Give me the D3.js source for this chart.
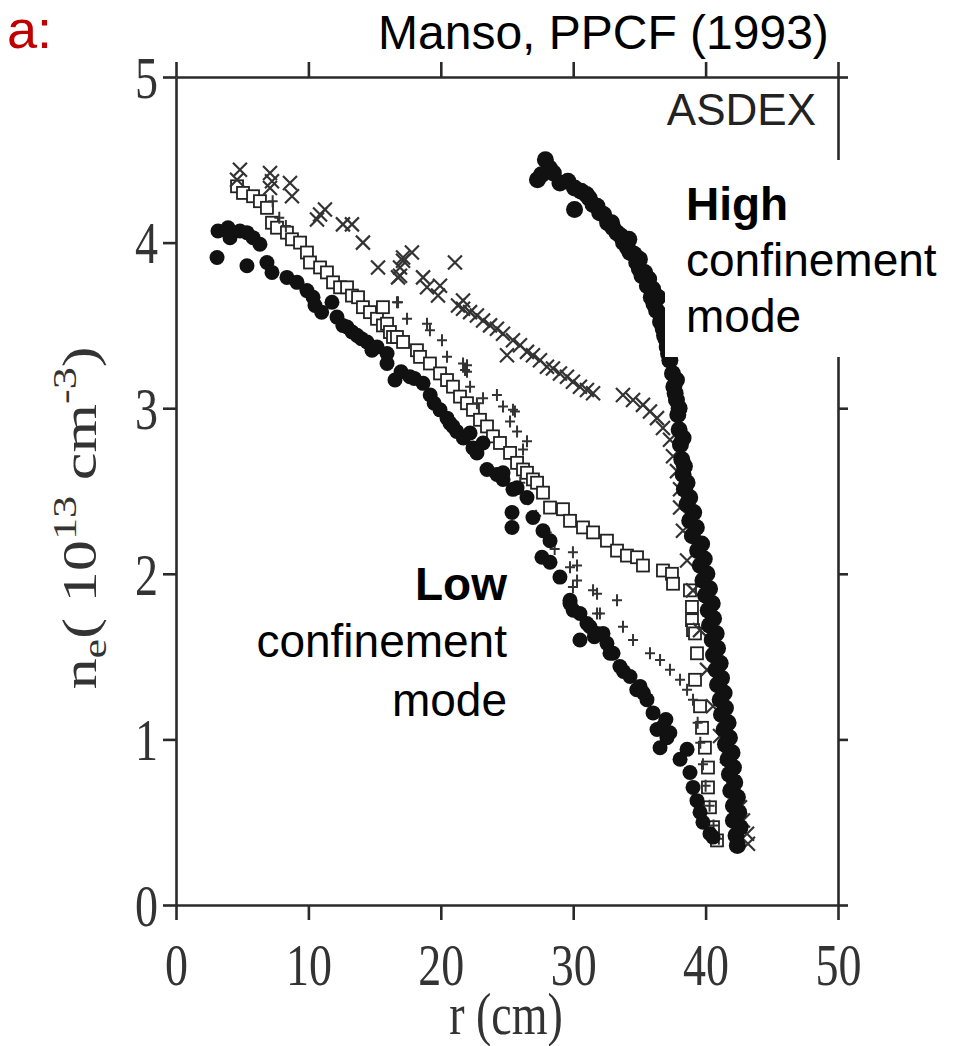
<!DOCTYPE html>
<html>
<head>
<meta charset="utf-8">
<style>
body { margin: 0; background: #fff; }
svg { display: block; background: #fff; }
.axis path, .axis line { stroke: #2a2a2a; stroke-width: 2.6; }
.axis text { font-family: "Liberation Serif", serif; font-size: 46px; fill: #333; }
.serif { font-family: "Liberation Serif", serif; fill: #333; }
.sans { font-family: "Liberation Sans", Arial, sans-serif; }
</style>
</head>
<body>
<svg id="chart" width="955" height="1046"></svg>
<script src="https://cdn.jsdelivr.net/npm/d3@7/dist/d3.min.js"></script>
<script>
// ticks
var xTicks = [0, 10, 20, 30, 40, 50];
var yTicks = [0, 1, 2, 3, 4, 5];

// L-mode profile, filled dots [r (cm), ne]
var lModeDots = [
  [3.17,4.07],[3.93,4.09],[4.08,4.03],[4.83,4.07],[5.36,4.06],[5.82,4.03],[6.34,3.99],
  [3.10,3.91],[5.36,3.86],[6.87,3.88],[7.25,3.82],[8.38,3.79],[9.14,3.76],[9.89,3.71],
  [10.35,3.67],[10.50,3.62],[11.0,3.58],[11.78,3.64],[12.16,3.55],[12.6,3.50],[12.92,3.49],
  [13.3,3.46],[13.67,3.44],[14.0,3.42],[14.43,3.40],[14.8,3.35],[15.18,3.37],[15.94,3.33],
  [15.94,3.27],[16.54,3.17],[17.0,3.22],[17.67,3.19],[18.0,3.18],[18.66,3.15],[19.2,3.08],
  [19.5,3.03],[19.94,2.99],[20.47,2.94],[20.69,2.91],[20.92,2.89],[21.2,2.86],[21.7,2.82],
  [22.21,2.85],[23.19,2.79],[22.43,2.76],[22.73,2.73],[23.49,2.63],[24.24,2.60],
  [24.70,2.57],[25.45,2.51],[24.70,2.61],[25.76,2.52],[26.51,2.46],[25.38,2.37],[25.38,2.28],
  [26.96,2.34],[27.72,2.26],[28.25,2.20],[27.64,2.10],[28.25,2.07],[29.00,1.98],[29.76,1.84],
  [30.0,1.78],[29.76,1.82],[30.51,1.76],[31.04,1.70],[31.27,1.68],[31.6,1.62],[31.80,1.64],
  [32.25,1.64],[32.55,1.58],[30.51,1.60],[33.01,1.52],[32.78,1.52],[33.53,1.44],[33.8,1.41],
  [34.29,1.38],[34.8,1.30],[35.05,1.32],[35.3,1.28],[35.57,1.24],[36.03,1.16],[36.33,1.06],
  [36.8,1.08],[37.0,1.12],[37.3,1.04],[37.08,1.01],[36.56,0.95],[38.07,0.88],[38.60,0.94],
  [38.82,0.80],[39.05,0.71],[39.35,0.63],[39.58,0.56],[39.80,0.50],[40.33,0.43],[40.56,0.41]
];

// intermediate profiles: open squares, plus signs, crosses
var squares = [
  [4.61,4.34],[5.06,4.30],[5.82,4.28],[6.34,4.25],[6.87,4.21],[7.25,4.12],[7.63,4.09],
  [8.38,4.06],[8.76,4.02],[9.37,4.00],[9.89,3.94],[10.12,3.88],[10.88,3.85],[11.40,3.82],
  [11.86,3.76],[12.39,3.73],[12.92,3.73],[13.29,3.68],[13.75,3.67],[14.12,3.61],[14.65,3.58],
  [15.18,3.54],[15.63,3.50],[15.63,3.61],[15.94,3.51],[16.16,3.46],[16.39,3.43],[16.69,3.43],
  [17.15,3.40],[18.20,3.35],[18.43,3.31],[19.18,3.27],[19.94,3.21],[20.47,3.17],[20.92,3.13],
  [21.45,3.07],[21.98,3.03],[22.43,2.99],[22.96,2.93],[23.49,2.89],[23.94,2.83],[24.47,2.79],
  [25.23,2.73],[25.76,2.67],[26.21,2.63],[26.51,2.61],[26.96,2.57],[27.27,2.55],[27.72,2.49],
  [28.25,2.40],[29.23,2.39],[29.76,2.32],[30.74,2.28],[31.50,2.25],[32.55,2.20],[33.31,2.14],
  [34.06,2.11],[34.82,2.10],[35.27,2.05],[36.78,2.02],[37.46,2.00],[37.54,1.94],[38.82,1.90],
  [38.97,1.80],[38.97,1.72],[39.05,1.66],[39.20,1.64],[39.35,1.52],[39.20,1.36],[39.58,1.20],
  [39.73,1.07],[39.95,0.95],[40.18,0.83],[40.18,0.71],[40.33,0.59],[40.56,0.47],[40.86,0.39]
];

var pluses = [
  [7.3,4.25],[7.8,4.15],[8.3,4.10],[16.69,3.64],[16.77,3.64],[17.45,3.54],[18.96,3.51],
  [19.18,3.47],[20.09,3.41],[20.47,3.31],[21.68,3.27],[21.83,3.23],[21.98,3.26],[21.98,3.22],
  [22.21,3.13],[23.19,3.06],[22.73,3.03],[24.24,3.08],[24.70,3.01],[25.45,2.99],[25.60,2.98],
  [25.23,2.92],[25.76,2.86],[26.51,2.80],[26.21,2.75],[26.0,2.55],[26.6,2.45],[27.2,2.35],
  [28.0,2.25],[28.6,2.15],[29.98,2.13],[29.76,2.04],[30.29,2.05],[29.98,1.92],[30.29,1.96],
  [31.50,1.90],[31.80,1.88],[33.31,1.84],[32.02,1.76],[31.80,1.76],[33.76,1.68],[34.52,1.60],
  [35.80,1.52],[36.56,1.48],[37.31,1.42],[38.07,1.36],[38.60,1.30],[39.05,1.24],[39.4,1.10],
  [39.6,0.98],[39.8,0.85],[40.0,0.72],[40.3,0.60],[40.6,0.48],[41.0,0.40]
];

var crosses = [
  [4.83,4.44],[4.61,4.38],[7.10,4.42],[7.25,4.37],[7.10,4.33],[8.61,4.36],[8.76,4.28],
  [10.65,4.14],[11.25,4.20],[10.88,4.17],[12.61,4.11],[13.29,4.11],[14.12,4.00],[15.26,3.85],
  [16.92,3.85],[17.15,3.91],[17.82,3.94],[16.92,3.80],[17.15,3.89],[16.77,3.79],[21.07,3.88],
  [18.66,3.79],[18.96,3.73],[19.94,3.74],[19.79,3.68],[21.68,3.65],[21.30,3.62],[21.68,3.60],
  [22.21,3.58],[22.73,3.56],[23.19,3.53],[23.72,3.50],[24.24,3.48],[24.70,3.45],[25.00,3.32],
  [25.45,3.41],[25.98,3.38],[26.51,3.34],[26.96,3.32],[27.49,3.29],[28.02,3.25],[28.47,3.24],
  [29.00,3.21],[29.53,3.19],[29.98,3.16],[30.51,3.13],[31.04,3.11],[31.50,3.09],[33.76,3.08],
  [34.52,3.05],[35.27,3.02],[35.80,2.98],[36.33,2.94],[36.78,2.88],[37.31,2.81],[37.54,2.71],
  [37.84,2.62],[38.07,2.51],[38.07,2.40],[38.29,2.26],[38.60,2.08],[39.05,1.90],[39.58,1.66],
  [40.11,1.42],[40.56,1.20],[41.09,1.02],[41.62,0.90],[42.07,0.74],[42.60,0.59],[42.82,0.51],
  [43.13,0.43],[43.20,0.37]
];

// H-mode profile, filled dots
var hModeDots = [
  [27.9,4.50],[28.2,4.45],[27.3,4.38],[27.6,4.41],[28.5,4.42],[29.0,4.36],[29.6,4.37],[30.1,4.20],
  [30.1,4.33],[30.6,4.31],[31.0,4.29],[31.2,4.27],[31.5,4.23],[31.8,4.22],[32.0,4.18],[32.3,4.17],
  [32.6,4.12],[32.9,4.12],[33.0,4.09],[33.3,4.06],[33.6,4.04],[33.8,4.00],[34.1,3.97],[34.2,4.02],
  [34.3,3.94],[34.6,3.93],[34.8,3.88],[35.0,3.84],[35.0,3.90],[35.2,3.80],[35.4,3.82],[35.6,3.74],
  [35.7,3.78],[35.9,3.67],[36.0,3.72],[36.1,3.63],[36.3,3.59],[36.4,3.67],[36.6,3.52],[36.7,3.56],
  [36.8,3.48],[36.9,3.44],[37.0,3.42],[37.1,3.37],[37.2,3.33],[37.3,3.29],[37.5,3.21],[37.6,3.13],
  [37.7,3.09],[37.8,3.05],[37.8,3.17],[37.9,2.96],[38.0,2.87],[38.0,3.00],[38.1,2.78],[38.2,2.69],
  [38.3,2.60],[38.3,2.82],[38.4,2.51],[38.4,2.65],[38.6,2.42],[38.6,2.55],[38.8,2.32],[38.8,2.46],
  [39.0,2.23],[39.1,2.37],[39.3,2.28],[39.4,2.14],[39.6,2.05],[39.7,2.18],[39.8,1.96],[39.9,2.09],
  [40.0,1.87],[40.1,2.00],[40.2,1.78],[40.3,1.69],[40.3,1.91],[40.5,1.60],[40.5,1.82],[40.6,1.51],
  [40.6,1.73],[40.8,1.42],[40.8,1.64],[40.9,1.33],[40.9,1.55],[41.1,1.24],[41.1,1.46],[41.2,1.15],
  [41.2,1.37],[41.4,1.06],[41.4,1.28],[41.5,0.97],[41.5,1.19],[41.7,0.88],[41.7,1.10],[41.8,0.79],
  [41.8,1.01],[41.9,0.69],[42.0,0.92],[42.1,0.60],[42.1,0.83],[42.1,0.51],[42.2,0.74],[42.3,0.42],
  [42.4,0.65],[42.4,0.36],[42.5,0.56],[42.6,0.47]
];

var svg = d3.select("#chart");

var x = d3.scaleLinear().domain([0, 50]).range([176, 838]),
    y = d3.scaleLinear().domain([0, 5]).range([905, 77]);

// axes on all four sides
var xAxis = svg.append("g").attr("class", "axis")
    .attr("transform", "translate(0," + y(0) + ")")
    .call(d3.axisBottom(x).tickValues(xTicks).tickSize(15).tickSizeOuter(0));
// the scanned figure is stretched vertically, so stretch the tick digits too
xAxis.selectAll("text")
    .attr("y", 0).attr("dy", 0)
    .attr("transform", "translate(0,80) scale(1,1.3)");

svg.append("g").attr("class", "axis")
    .attr("transform", "translate(0," + y(5) + ")")
    .call(d3.axisTop(x).tickValues(xTicks).tickSize(15).tickSizeOuter(0).tickFormat(""));

var yAxis = svg.append("g").attr("class", "axis")
    .attr("transform", "translate(" + x(0) + ",0)")
    .call(d3.axisLeft(y).tickValues(yTicks).tickSize(13).tickSizeOuter(0).tickPadding(5)
      .tickFormat(d3.format("d")));
yAxis.selectAll("text")
    .attr("dy", "0.34em")
    .attr("transform", "scale(1,1.3)");

svg.append("g").attr("class", "axis")
    .attr("transform", "translate(" + x(50) + ",0)")
    .call(d3.axisRight(y).tickValues(yTicks).tickSize(10).tickSizeOuter(0).tickFormat(""));

// data marks
var marks = svg.append("g");

marks.selectAll(".sq").data(squares).enter().append("rect")
    .attr("x", function(d) { return x(d[0]) - 6; })
    .attr("y", function(d) { return y(d[1]) - 6; })
    .attr("width", 12).attr("height", 12)
    .attr("fill", "#fff").attr("stroke", "#222").attr("stroke-width", 1.8);

marks.selectAll(".pl").data(pluses).enter().append("path")
    .attr("transform", function(d) { return "translate(" + x(d[0]) + "," + y(d[1]) + ")"; })
    .attr("d", "M-5,0H5M0,-6V6")
    .attr("stroke", "#333").attr("stroke-width", 2);

marks.selectAll(".cr").data(crosses).enter().append("path")
    .attr("transform", function(d) { return "translate(" + x(d[0]) + "," + y(d[1]) + ")"; })
    .attr("d", "M-7,-7L7,7M-7,7L7,-7")
    .attr("stroke", "#333").attr("stroke-width", 2.2);

marks.selectAll(".ld").data(lModeDots).enter().append("circle")
    .attr("cx", function(d) { return x(d[0]); })
    .attr("cy", function(d) { return y(d[1]); })
    .attr("r", 7.5).attr("fill", "#111");

marks.selectAll(".hd").data(hModeDots).enter().append("circle")
    .attr("cx", function(d) { return x(d[0]); })
    .attr("cy", function(d) { return y(d[1]); })
    .attr("r", 8.5).attr("fill", "#111");

// axis titles
svg.append("text").attr("class", "serif")
    .attr("transform", "translate(506,1034) scale(1,1.3)")
    .attr("text-anchor", "middle").attr("font-size", 46)
    .text("r (cm)");

var ylab = svg.append("text").attr("class", "serif")
    .attr("transform", "translate(96,518) scale(1,1.3) rotate(-90)")
    .attr("text-anchor", "middle").attr("font-size", 48);
ylab.append("tspan").text("n");
ylab.append("tspan").attr("font-size", 34).attr("dy", 10).text("e");
ylab.append("tspan").attr("dy", -10).text("( 10");
ylab.append("tspan").attr("font-size", 34).attr("dy", -20).text("13");
ylab.append("tspan").attr("dy", 20).text(" cm");
ylab.append("tspan").attr("font-size", 34).attr("dy", -20).text("-3");
ylab.append("tspan").attr("dy", 20).text(")");

// ASDEX tag
svg.append("text").attr("class", "sans")
    .attr("x", 816).attr("y", 125).attr("text-anchor", "end")
    .attr("font-size", 44).attr("fill", "#222")
    .text("ASDEX");

// annotation box for H-mode
svg.append("rect").attr("x", 665).attr("y", 160).attr("width", 290).attr("height", 197).attr("fill", "#fff");

var hText = svg.append("text").attr("class", "sans").attr("font-size", 46).attr("fill", "#000");
hText.append("tspan").attr("x", 686).attr("y", 220).attr("font-weight", "bold").text("High");
hText.append("tspan").attr("x", 686).attr("y", 276).text("confinement");
hText.append("tspan").attr("x", 686).attr("y", 332).text("mode");

var lText = svg.append("text").attr("class", "sans").attr("font-size", 46)
    .attr("fill", "#000").attr("text-anchor", "end");
lText.append("tspan").attr("x", 507).attr("y", 600).attr("font-weight", "bold").text("Low");
lText.append("tspan").attr("x", 507).attr("y", 657).text("confinement");
lText.append("tspan").attr("x", 507).attr("y", 716).text("mode");

// header
svg.append("text").attr("class", "sans")
    .attr("x", 7).attr("y", 48).attr("font-size", 54).attr("fill", "#c00000")
    .text("a:");
svg.append("text").attr("class", "sans")
    .attr("x", 378).attr("y", 49).attr("font-size", 48).attr("fill", "#000")
    .text("Manso, PPCF (1993)");
</script>
</body>
</html>
